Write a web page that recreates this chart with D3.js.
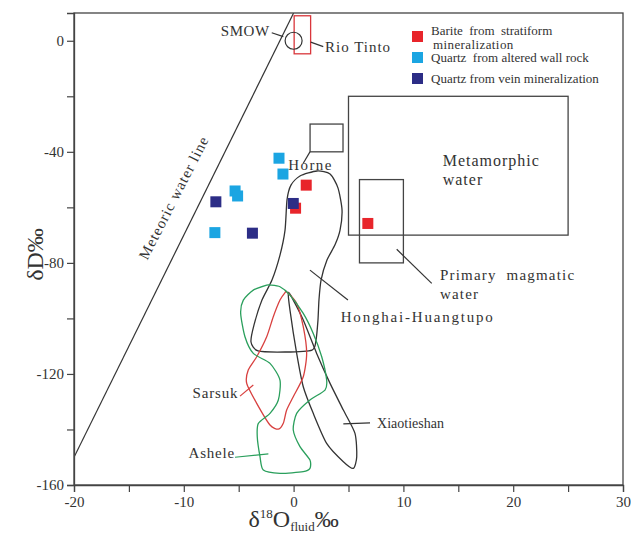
<!DOCTYPE html>
<html>
<head>
<meta charset="utf-8">
<script src="https://cdn.jsdelivr.net/npm/d3@7"></script>
<style>
  body { margin: 0; background: #fff; }
  svg text { font-family: "Liberation Serif", "DejaVu Serif", serif; fill: #333; }
</style>
</head>
<body>
<div id="chart"></div>
<script>
// isotope data, values in permil
var xTicks = [-20, -15, -10, -5, 0, 5, 10, 15, 20, 25, 30];
var xTickLabels = [-20, -10, 0, 10, 20, 30];
var yTicks = [-160, -140, -120, -100, -80, -60, -40, -20, 0];
var yTickLabels = [-160, -120, -80, -40, 0];

var barite = [[1.15, -52.0], [0.18, -60.3], [6.76, -65.8]];
var quartzWall = [[-1.33, -42.3], [-0.97, -48.0], [-5.33, -54.1], [-5.1, -55.9], [-7.17, -69.1]];
var quartzVein = [[-7.08, -58.0], [-3.75, -69.3], [-0.03, -58.6]];

var seriesNames = ['Barite  from  stratiform', 'Quartz  from altered wall rock', 'Quartz from vein mineralization'];
var seriesColor = ['#e8252b', '#1ba5e2', '#2c2d86'];

// meteoric water line dD = 8 d18O + 10
var mwl = [[-20, -150], [0, 10]];
var smow = [0, 0];
var rioTinto = [[0.05, 9], [1.55, -4.7]];
var horne = [[1.5, -30], [4.5, -40]];
var metamorphic = [[5, -20], [25, -70]];
var magmatic = [[6, -50], [10, -80]];

var honghai = [[0.58, -48.7], [2.13, -46.9], [3.32, -48.0], [4.04, -53.0], [4.41, -60.9], [4.23, -68.2],
  [3.77, -73.5], [3.04, -79.0], [2.5, -86.2], [2.31, -93.4], [2.22, -100.6], [2.04, -107.8], [1.68, -111.4],
  [-0.78, -112.1], [-3.24, -111.7], [-3.88, -108.5], [-3.61, -102.4], [-2.88, -93.4], [-1.97, -86.2],
  [-1.24, -77.2], [-0.78, -68.2], [-0.6, -57.3], [-0.24, -52.0]];
var xiaotieshan = [[-0.48, -90.7], [-0.33, -97.0], [0.28, -112.6], [0.88, -124.6], [1.79, -134.2], [3.01, -145.0],
  [4.53, -151.6], [5.44, -154.0], [5.75, -149.8], [5.59, -141.4], [4.53, -133.0], [3.32, -123.4], [2.1, -112.6],
  [0.88, -100.6], [-0.03, -93.4]];
var sarsuk = [[-0.63, -90.4], [0.28, -94.6], [0.88, -103.0], [1.19, -112.6], [0.88, -121.0], [-0.03, -128.2],
  [-0.63, -133.0], [-0.94, -137.8], [-1.39, -139.9], [-2.15, -138.4], [-3.36, -130.6], [-4.27, -123.4],
  [-4.13, -118.6], [-3.36, -113.8], [-2.45, -106.6], [-1.85, -99.4], [-1.24, -93.4], [-0.78, -90.7]];
var ashele = [[-2.15, -88.0], [-1.24, -88.6], [-0.33, -91.6], [0.88, -98.2], [1.79, -105.4], [2.56, -113.8],
  [3.01, -122.2], [2.86, -125.8], [1.49, -129.4], [0.28, -134.2], [-0.03, -140.2], [0.58, -146.2], [1.49, -151.0],
  [1.49, -154.0], [0.88, -155.2], [-1.24, -155.8], [-2.76, -154.6], [-3.06, -149.8], [-3.31, -142.6],
  [-3.21, -137.8], [-2.15, -134.2], [-1.39, -129.4], [-1.24, -122.2], [-2.15, -116.2], [-3.67, -112.6],
  [-4.43, -106.6], [-4.82, -98.2], [-4.58, -93.4], [-3.67, -89.8], [-2.45, -88.0]];

// labels: [text, x, y, anchor, size, letter spacing]
var labels = [
  ['SMOW', -6.64, 1.8, 'start', 15, 0.6],
  ['Rio Tinto', 2.86, -4.0, 'start', 15, 1],
  ['Horne', -0.48, -46.5, 'start', 15, 1.4],
  ['Metamorphic', 13.58, -45.1, 'start', 16, 1],
  ['water', 13.58, -51.9, 'start', 16, 1],
  ['Primary  magmatic', 13.33, -86.2, 'start', 15, 1.2],
  ['water', 13.33, -93.0, 'start', 15, 1.2],
  ['Honghai-Huangtupo', 4.29, -101.3, 'start', 15, 1.8],
  ['Sarsuk', -5.04, -128.7, 'end', 15, 0.8],
  ['Ashele', -5.34, -150.3, 'end', 15, 0.8],
  ['Xiaotieshan', 7.6, -139.5, 'start', 14, 0]
];
var leaders = [
  [[-1.99, 2.9], [-0.94, 1.5]],
  [[1.56, -0.5], [2.7, -2.1]],
  [[1.49, -40], [0.88, -44.1]],
  [[9.39, -75.1], [12.58, -87.4]],
  [[1.49, -82.6], [4.95, -93.4]],
  [[-4.88, -128.0], [-3.67, -124.0]],
  [[-5.34, -150.0], [-2.3, -148.8]],
  [[4.53, -138.0], [6.96, -137.6]]
];

var margin = {top: 13, right: 8, bottom: 53, left: 74};
var width = 631 - margin.left - margin.right,
    height = 538 - margin.top - margin.bottom;

var svg = d3.select("#chart").append("svg")
    .attr("width", 631)
    .attr("height", 538);
var g = svg.append("g").attr("transform", "translate(" + margin.left + "," + margin.top + ")");

var x = d3.scaleLinear().domain([-20, 30]).range([0, width]);
var y = d3.scaleLinear().domain([-160, 10]).range([height, 0]);

g.append("defs").append("clipPath").attr("id", "clip")
  .append("rect").attr("width", width).attr("height", height);

var plot = g.append("g").attr("clip-path", "url(#clip)");

// meteoric water line
plot.append("line")
    .attr("x1", x(mwl[0][0])).attr("y1", y(mwl[0][1]))
    .attr("x2", x(mwl[1][0])).attr("y2", y(mwl[1][1]))
    .attr("stroke", "#333").attr("stroke-width", 1.2);

g.append("text")
    .attr("transform", "translate(" + x(-10.5) + "," + y(-57.3) + ") rotate(-63)")
    .attr("text-anchor", "middle")
    .attr("font-size", 15)
    .attr("letter-spacing", 1)
    .text("Meteoric water line");

function box(b, color){
  plot.append("rect")
      .attr("x", x(b[0][0]))
      .attr("y", y(b[0][1]))
      .attr("width", x(b[1][0]) - x(b[0][0]))
      .attr("height", y(b[1][1]) - y(b[0][1]))
      .attr("fill", "none")
      .attr("stroke", color)
      .attr("stroke-width", 1.3);
}
box(metamorphic, "#444");
box(magmatic, "#444");
box(horne, "#444");
box(rioTinto, "#d9363b");

plot.append("circle")
    .attr("cx", x(smow[0])).attr("cy", y(smow[1]))
    .attr("r", 8.5)
    .attr("fill", "none").attr("stroke", "#333").attr("stroke-width", 1.2);

var line = d3.line()
    .x(function(d) { return x(d[0]); })
    .y(function(d) { return y(d[1]); })
    .curve(d3.curveCardinalClosed.tension(0.3));

var outlines = [[honghai, '#333'], [xiaotieshan, '#333'], [sarsuk, '#d8403f'], [ashele, '#2a9f5c']];
outlines.forEach(function(o){
  plot.append("path")
      .attr("d", line(o[0]))
      .attr("fill", "none")
      .attr("stroke", o[1])
      .attr("stroke-width", 1.3);
});

// leader lines
g.selectAll(".leader").data(leaders).enter().append("line")
    .attr("x1", function(d) { return x(d[0][0]); })
    .attr("y1", function(d) { return y(d[0][1]); })
    .attr("x2", function(d) { return x(d[1][0]); })
    .attr("y2", function(d) { return y(d[1][1]); })
    .attr("stroke", function(d, i) { return i == 5 ? '#d8403f' : (i == 6 ? '#2a9f5c' : '#333'); })
    .attr("stroke-width", 1.2);

g.selectAll(".lab").data(labels).enter().append("text")
    .attr("x", function(d) { return x(d[1]); })
    .attr("y", function(d) { return y(d[2]); })
    .attr("text-anchor", function(d) { return d[3]; })
    .attr("font-size", function(d) { return d[4]; })
    .attr("letter-spacing", function(d) { return d[5]; })
    .attr("xml:space", "preserve")
    .style("white-space", "pre")
    .text(function(d) { return d[0]; });

// samples
var groups = [barite, quartzWall, quartzVein];
groups.forEach(function(s, k){
  plot.selectAll(".s" + k).data(s).enter().append("rect")
      .attr("x", function(d) { return x(d[0]) - 5.5; })
      .attr("y", function(d) { return y(d[1]) - 5.5; })
      .attr("width", 11)
      .attr("height", 11)
      .attr("fill", seriesColor[k]);
});

// frame
g.append("rect")
    .attr("width", width).attr("height", height)
    .attr("fill", "none").attr("stroke", "#444").attr("stroke-width", 1.3);

var xAxis = g.append("g")
    .attr("transform", "translate(0," + height + ")")
    .call(d3.axisBottom(x).tickValues(xTicks).tickSize(7).tickPadding(4)
      .tickFormat(function(d) { return xTickLabels.indexOf(d) >= 0 ? d : ""; }));
var yAxis = g.append("g")
    .call(d3.axisLeft(y).tickValues(yTicks).tickSize(7).tickPadding(3)
      .tickFormat(function(d) { return yTickLabels.indexOf(d) >= 0 ? d : ""; }));

[xAxis, yAxis].forEach(function(a){
  a.select(".domain").attr("stroke", "#444").attr("stroke-width", 1.3);
  a.selectAll(".tick line").attr("stroke", "#444").attr("stroke-width", 1.2);
  a.selectAll(".tick text").attr("font-family", "Liberation Serif").attr("font-size", 15).attr("fill", "#333");
});

// axis titles
var xt = svg.append("text")
    .attr("x", margin.left + x(0))
    .attr("y", 527)
    .attr("text-anchor", "middle")
    .attr("font-size", 24);
xt.append("tspan").text("δ");
xt.append("tspan").attr("font-size", 13).attr("dy", -9).text("18");
xt.append("tspan").attr("dy", 9).text("O");
xt.append("tspan").attr("font-size", 13).attr("dy", 4).text("fluid");
xt.append("tspan").attr("dy", -4).text("‰");

svg.append("text")
    .attr("transform", "translate(43," + (margin.top + y(-77)) + ") rotate(-90)")
    .attr("text-anchor", "middle")
    .attr("font-size", 24)
    .text("δD‰");

// legend
var legend = svg.append("g").attr("transform", "translate(412,31)");
var legendY = [0, 21, 42];
var legendTextDy = [4, 10, 9.5];
legend.selectAll("rect").data(seriesNames).enter().append("rect")
    .attr("x", 0)
    .attr("y", function(d, i) { return legendY[i]; })
    .attr("width", 11).attr("height", 11)
    .attr("fill", function(d, i) { return seriesColor[i]; });
legend.selectAll(".lt").data(seriesNames).enter().append("text")
    .attr("x", 19)
    .attr("y", function(d, i) { return legendY[i] + legendTextDy[i]; })
    .attr("font-size", 13)
    .attr("xml:space", "preserve")
    .style("white-space", "pre")
    .text(function(d) { return d; });
legend.append("text")
    .attr("x", 21).attr("y", 17.5)
    .attr("font-size", 13)
    .attr("letter-spacing", 0.4)
    .text("mineralization");
</script>
</body>
</html>
